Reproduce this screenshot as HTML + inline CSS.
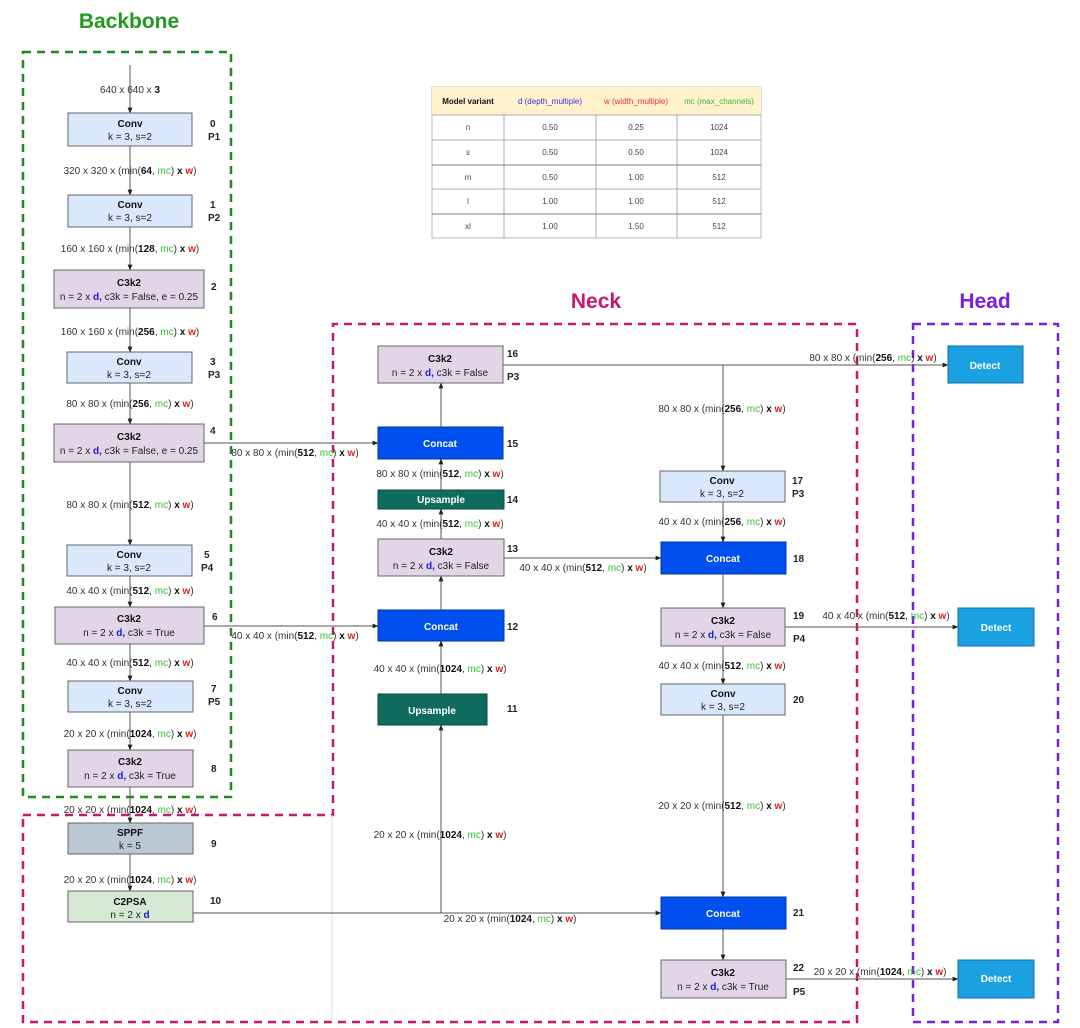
<!DOCTYPE html>
<html><head><meta charset="utf-8"><style>
html,body{margin:0;padding:0;background:#fff;}
svg{display:block;font-family:"Liberation Sans",Arial,sans-serif;}
.t{font-size:10px;fill:#222;text-anchor:middle;}
.lb{font-size:10px;fill:#333;text-anchor:middle;}
.lbbg{fill:#fff;opacity:0.9}
.b{font-weight:bold;fill:#111}
.g{fill:#2ec52e}
.r{fill:#e02020;font-weight:bold}
.d{fill:#1a1adc;font-weight:bold}
.h{font-weight:bold;font-size:10px;fill:#111;text-anchor:middle;}
.wh{font-weight:bold;font-size:10px;fill:#fff;text-anchor:middle;}
.num{font-weight:bold;font-size:10px;fill:#222;}
.ln{stroke:#555;stroke-width:1;fill:none;}
.tb{font-size:8px;fill:#444;text-anchor:middle;}
</style></head><body>
<svg width="1080" height="1028" viewBox="0 0 1080 1028" xmlns="http://www.w3.org/2000/svg">
<defs><marker id="a" viewBox="0 0 10 10" refX="9" refY="5" markerWidth="6" markerHeight="6" orient="auto"><path d="M0,1 L10,5 L0,9 z" fill="#222"/></marker></defs>

<!-- titles -->
<text x="129" y="28" font-size="21" font-weight="bold" fill="#1f9a1f" text-anchor="middle">Backbone</text>
<text x="596" y="308" font-size="21" font-weight="bold" fill="#c8186e" text-anchor="middle">Neck</text>
<text x="985" y="308" font-size="21" font-weight="bold" fill="#7a1fe0" text-anchor="middle">Head</text>

<!-- group boxes -->
<rect x="23" y="52" width="208" height="745" fill="none" stroke="#1f8a1f" stroke-width="2.5" stroke-dasharray="8,6"/>
<path d="M23,815 L333,815 L333,324 L857,324 L857,1022 L23,1022 Z" fill="none" stroke="#c8186e" stroke-width="2.5" stroke-dasharray="8,6"/>
<line x1="332" y1="815" x2="332" y2="1022" stroke="#ddd" stroke-width="1"/>
<rect x="913" y="324" width="145" height="698" fill="none" stroke="#7a1fe0" stroke-width="2.5" stroke-dasharray="8,6"/>

<!-- table -->
<g>
<rect x="432" y="87" width="329" height="151" fill="#fff" stroke="#bbb"/>
<rect x="432" y="87" width="329" height="28" fill="#fff2cc"/>
<g stroke="#999" stroke-width="0.8">
<line x1="432" y1="115" x2="761" y2="115"/><line x1="432" y1="140" x2="761" y2="140"/>
<line x1="432" y1="165" x2="761" y2="165" stroke="#555"/><line x1="432" y1="189" x2="761" y2="189"/>
<line x1="432" y1="214" x2="761" y2="214" stroke="#555"/>
<line x1="504" y1="115" x2="504" y2="238"/><line x1="596" y1="115" x2="596" y2="238"/><line x1="677" y1="115" x2="677" y2="238"/>
</g>
<text x="468" y="104" font-size="8" font-weight="bold" fill="#111" text-anchor="middle">Model variant</text>
<text x="550" y="104" font-size="8" fill="#3333dd" text-anchor="middle">d (depth_multiple)</text>
<text x="636" y="104" font-size="8" fill="#e03030" text-anchor="middle">w (width_multiple)</text>
<text x="719" y="104" font-size="8" fill="#33bb33" text-anchor="middle">mc (max_channels)</text>
<text class="tb" x="468" y="130">n</text><text class="tb" x="550" y="130">0.50</text><text class="tb" x="636" y="130">0.25</text><text class="tb" x="719" y="130">1024</text>
<text class="tb" x="468" y="155">s</text><text class="tb" x="550" y="155">0.50</text><text class="tb" x="636" y="155">0.50</text><text class="tb" x="719" y="155">1024</text>
<text class="tb" x="468" y="180">m</text><text class="tb" x="550" y="180">0.50</text><text class="tb" x="636" y="180">1.00</text><text class="tb" x="719" y="180">512</text>
<text class="tb" x="468" y="204">l</text><text class="tb" x="550" y="204">1.00</text><text class="tb" x="636" y="204">1.00</text><text class="tb" x="719" y="204">512</text>
<text class="tb" x="468" y="229">xl</text><text class="tb" x="550" y="229">1.00</text><text class="tb" x="636" y="229">1.50</text><text class="tb" x="719" y="229">512</text>
</g>

<!-- connectors -->
<g class="ln" marker-end="url(#a)">
<line x1="130" y1="65" x2="130" y2="113"/>
<line x1="130" y1="146" x2="130" y2="195"/>
<line x1="130" y1="227" x2="130" y2="270"/>
<line x1="130" y1="308" x2="130" y2="352"/>
<line x1="130" y1="383" x2="130" y2="424"/>
<line x1="130" y1="462" x2="130" y2="545"/>
<line x1="130" y1="576" x2="130" y2="607"/>
<line x1="130" y1="644" x2="130" y2="681"/>
<line x1="130" y1="712" x2="130" y2="750"/>
<line x1="130" y1="787" x2="130" y2="823"/>
<line x1="130" y1="854" x2="130" y2="891"/>
<line x1="204" y1="443" x2="378" y2="443"/>
<line x1="204" y1="626" x2="378" y2="626"/>
<polyline points="193,913 661,913"/>
<polyline points="441,913 441,725"/>
<line x1="441" y1="694" x2="441" y2="641"/>
<line x1="441" y1="610" x2="441" y2="576"/>
<line x1="441" y1="539" x2="441" y2="509"/>
<line x1="441" y1="490" x2="441" y2="459"/>
<line x1="441" y1="427" x2="441" y2="383"/>
<line x1="503" y1="365" x2="948" y2="365"/>
<line x1="723" y1="365" x2="723" y2="471"/>
<line x1="723" y1="502" x2="723" y2="542"/>
<line x1="504" y1="558" x2="661" y2="558"/>
<line x1="723" y1="574" x2="723" y2="608"/>
<line x1="785" y1="627" x2="958" y2="627"/>
<line x1="723" y1="646" x2="723" y2="684"/>
<line x1="723" y1="715" x2="723" y2="897"/>
<line x1="723" y1="929" x2="723" y2="960"/>
<line x1="786" y1="979" x2="958" y2="979"/>
</g>

<!-- nodes -->
<g stroke="#666" stroke-width="1">
<rect x="68" y="113" width="124" height="33" fill="#dae8fc"/>
<rect x="68" y="195" width="124" height="32" fill="#dae8fc"/>
<rect x="54" y="270" width="150" height="38" fill="#e1d5e7"/>
<rect x="67" y="352" width="125" height="31" fill="#dae8fc"/>
<rect x="54" y="424" width="150" height="38" fill="#e1d5e7"/>
<rect x="67" y="545" width="125" height="31" fill="#dae8fc"/>
<rect x="55" y="607" width="149" height="37" fill="#e1d5e7"/>
<rect x="68" y="681" width="125" height="31" fill="#dae8fc"/>
<rect x="68" y="750" width="125" height="37" fill="#e1d5e7"/>
<rect x="68" y="823" width="125" height="31" fill="#bac8d3"/>
<rect x="68" y="891" width="125" height="31" fill="#d5e8d4"/>
<rect x="378" y="346" width="125" height="37" fill="#e1d5e7"/>
<rect x="378" y="427" width="125" height="32" fill="#0050ef" stroke="#0035a0"/>
<rect x="378" y="490" width="126" height="19" fill="#0e6b5e" stroke="#0a4a40"/>
<rect x="378" y="539" width="126" height="37" fill="#e1d5e7"/>
<rect x="378" y="610" width="126" height="31" fill="#0050ef" stroke="#0035a0"/>
<rect x="378" y="694" width="109" height="31" fill="#0e6b5e" stroke="#0a4a40"/>
<rect x="660" y="471" width="125" height="31" fill="#dae8fc"/>
<rect x="661" y="542" width="125" height="32" fill="#0050ef" stroke="#0035a0"/>
<rect x="661" y="608" width="124" height="38" fill="#e1d5e7"/>
<rect x="661" y="684" width="124" height="31" fill="#dae8fc"/>
<rect x="661" y="897" width="125" height="32" fill="#0050ef" stroke="#0035a0"/>
<rect x="661" y="960" width="125" height="38" fill="#e1d5e7"/>
<rect x="948" y="346" width="75" height="37" fill="#1ba1e2" stroke="#1070a0"/>
<rect x="958" y="608" width="76" height="38" fill="#1ba1e2" stroke="#1070a0"/>
<rect x="958" y="960" width="76" height="38" fill="#1ba1e2" stroke="#1070a0"/>
</g>

<!-- node text -->
<text class="h" x="130" y="127">Conv</text><text class="t" x="130" y="140">k = 3, s=2</text>
<text class="h" x="130" y="208">Conv</text><text class="t" x="130" y="221">k = 3, s=2</text>
<text class="h" x="129" y="286">C3k2</text><text class="t" x="129" y="300">n = 2 x <tspan class="d">d,</tspan> c3k = False, e = 0.25</text>
<text class="h" x="129" y="365">Conv</text><text class="t" x="129" y="378">k = 3, s=2</text>
<text class="h" x="129" y="440">C3k2</text><text class="t" x="129" y="454">n = 2 x <tspan class="d">d,</tspan> c3k = False, e = 0.25</text>
<text class="h" x="129" y="558">Conv</text><text class="t" x="129" y="571">k = 3, s=2</text>
<text class="h" x="129" y="622">C3k2</text><text class="t" x="129" y="636">n = 2 x <tspan class="d">d,</tspan> c3k = True</text>
<text class="h" x="130" y="694">Conv</text><text class="t" x="130" y="707">k = 3, s=2</text>
<text class="h" x="130" y="765">C3k2</text><text class="t" x="130" y="779">n = 2 x <tspan class="d">d,</tspan> c3k = True</text>
<text class="h" x="130" y="836">SPPF</text><text class="t" x="130" y="849">k = 5</text>
<text class="h" x="130" y="905" font-size="11">C2PSA</text><text class="t" x="130" y="918" font-size="11">n = 2 x <tspan class="d">d</tspan></text>
<text class="h" x="440" y="362">C3k2</text><text class="t" x="440" y="376">n = 2 x <tspan class="d">d,</tspan> c3k = False</text>
<text class="wh" x="440" y="447">Concat</text>
<text class="wh" x="441" y="503">Upsample</text>
<text class="h" x="441" y="555">C3k2</text><text class="t" x="441" y="569">n = 2 x <tspan class="d">d,</tspan> c3k = False</text>
<text class="wh" x="441" y="630">Concat</text>
<text class="wh" x="432" y="714">Upsample</text>
<text class="h" x="722" y="484">Conv</text><text class="t" x="722" y="497">k = 3, s=2</text>
<text class="wh" x="723" y="562">Concat</text>
<text class="h" x="723" y="624">C3k2</text><text class="t" x="723" y="638">n = 2 x <tspan class="d">d,</tspan> c3k = False</text>
<text class="h" x="723" y="697">Conv</text><text class="t" x="723" y="710">k = 3, s=2</text>
<text class="wh" x="723" y="917">Concat</text>
<text class="h" x="723" y="976">C3k2</text><text class="t" x="723" y="990">n = 2 x <tspan class="d">d,</tspan> c3k = True</text>
<text class="wh" x="985" y="369">Detect</text>
<text class="wh" x="996" y="631">Detect</text>
<text class="wh" x="996" y="982">Detect</text>

<!-- numbers -->
<g class="num">
<text x="210" y="127">0</text><text x="208" y="140">P1</text>
<text x="210" y="208">1</text><text x="208" y="221">P2</text>
<text x="211" y="290">2</text>
<text x="210" y="365">3</text><text x="208" y="378">P3</text>
<text x="210" y="434">4</text>
<text x="204" y="558">5</text><text x="201" y="571">P4</text>
<text x="212" y="620">6</text>
<text x="211" y="692">7</text><text x="208" y="705">P5</text>
<text x="211" y="772">8</text>
<text x="211" y="847">9</text>
<text x="210" y="904">10</text>
<text x="507" y="357">16</text><text x="507" y="380">P3</text>
<text x="507" y="447">15</text>
<text x="507" y="503">14</text>
<text x="507" y="552">13</text>
<text x="507" y="630">12</text>
<text x="507" y="712">11</text>
<text x="792" y="484">17</text><text x="792" y="497">P3</text>
<text x="793" y="562">18</text>
<text x="793" y="619">19</text><text x="793" y="642">P4</text>
<text x="793" y="703">20</text>
<text x="793" y="916">21</text>
<text x="793" y="971">22</text><text x="793" y="995">P5</text>
</g>

<!-- edge labels -->
<g class="lb">
<text x="130" y="93">640 x 640 x <tspan class="b">3</tspan></text>
<text x="130" y="174">320 x 320 x (min(<tspan class="b">64</tspan>, <tspan class="g">mc</tspan>) <tspan class="b">x</tspan> <tspan class="r">w</tspan>)</text>
<text x="130" y="252">160 x 160 x (min(<tspan class="b">128</tspan>, <tspan class="g">mc</tspan>) <tspan class="b">x</tspan> <tspan class="r">w</tspan>)</text>
<text x="130" y="335">160 x 160 x (min(<tspan class="b">256</tspan>, <tspan class="g">mc</tspan>) <tspan class="b">x</tspan> <tspan class="r">w</tspan>)</text>
<text x="130" y="407">80 x 80 x (min(<tspan class="b">256</tspan>, <tspan class="g">mc</tspan>) <tspan class="b">x</tspan> <tspan class="r">w</tspan>)</text>
<text x="130" y="508">80 x 80 x (min(<tspan class="b">512</tspan>, <tspan class="g">mc</tspan>) <tspan class="b">x</tspan> <tspan class="r">w</tspan>)</text>
<text x="130" y="594">40 x 40 x (min(<tspan class="b">512</tspan>, <tspan class="g">mc</tspan>) <tspan class="b">x</tspan> <tspan class="r">w</tspan>)</text>
<text x="130" y="666">40 x 40 x (min(<tspan class="b">512</tspan>, <tspan class="g">mc</tspan>) <tspan class="b">x</tspan> <tspan class="r">w</tspan>)</text>
<text x="130" y="737">20 x 20 x (min(<tspan class="b">1024</tspan>, <tspan class="g">mc</tspan>) <tspan class="b">x</tspan> <tspan class="r">w</tspan>)</text>
<text x="130" y="813">20 x 20 x (min(<tspan class="b">1024</tspan>, <tspan class="g">mc</tspan>) <tspan class="b">x</tspan> <tspan class="r">w</tspan>)</text>
<text x="130" y="883">20 x 20 x (min(<tspan class="b">1024</tspan>, <tspan class="g">mc</tspan>) <tspan class="b">x</tspan> <tspan class="r">w</tspan>)</text>
<text x="295" y="456">80 x 80 x (min(<tspan class="b">512</tspan>, <tspan class="g">mc</tspan>) <tspan class="b">x</tspan> <tspan class="r">w</tspan>)</text>
<text x="295" y="639">40 x 40 x (min(<tspan class="b">512</tspan>, <tspan class="g">mc</tspan>) <tspan class="b">x</tspan> <tspan class="r">w</tspan>)</text>
<text x="440" y="477">80 x 80 x (min(<tspan class="b">512</tspan>, <tspan class="g">mc</tspan>) <tspan class="b">x</tspan> <tspan class="r">w</tspan>)</text>
<text x="440" y="527">40 x 40 x (min(<tspan class="b">512</tspan>, <tspan class="g">mc</tspan>) <tspan class="b">x</tspan> <tspan class="r">w</tspan>)</text>
<text x="440" y="672">40 x 40 x (min(<tspan class="b">1024</tspan>, <tspan class="g">mc</tspan>) <tspan class="b">x</tspan> <tspan class="r">w</tspan>)</text>
<text x="440" y="838">20 x 20 x (min(<tspan class="b">1024</tspan>, <tspan class="g">mc</tspan>) <tspan class="b">x</tspan> <tspan class="r">w</tspan>)</text>
<text x="510" y="922">20 x 20 x (min(<tspan class="b">1024</tspan>, <tspan class="g">mc</tspan>) <tspan class="b">x</tspan> <tspan class="r">w</tspan>)</text>
<text x="583" y="571">40 x 40 x (min(<tspan class="b">512</tspan>, <tspan class="g">mc</tspan>) <tspan class="b">x</tspan> <tspan class="r">w</tspan>)</text>
<text x="722" y="412">80 x 80 x (min(<tspan class="b">256</tspan>, <tspan class="g">mc</tspan>) <tspan class="b">x</tspan> <tspan class="r">w</tspan>)</text>
<text x="722" y="525">40 x 40 x (min(<tspan class="b">256</tspan>, <tspan class="g">mc</tspan>) <tspan class="b">x</tspan> <tspan class="r">w</tspan>)</text>
<text x="722" y="669">40 x 40 x (min(<tspan class="b">512</tspan>, <tspan class="g">mc</tspan>) <tspan class="b">x</tspan> <tspan class="r">w</tspan>)</text>
<text x="722" y="809">20 x 20 x (min(<tspan class="b">512</tspan>, <tspan class="g">mc</tspan>) <tspan class="b">x</tspan> <tspan class="r">w</tspan>)</text>
<text x="873" y="361">80 x 80 x (min(<tspan class="b">256</tspan>, <tspan class="g">mc</tspan>) <tspan class="b">x</tspan> <tspan class="r">w</tspan>)</text>
<text x="886" y="619">40 x 40 x (min(<tspan class="b">512</tspan>, <tspan class="g">mc</tspan>) <tspan class="b">x</tspan> <tspan class="r">w</tspan>)</text>
<text x="880" y="975">20 x 20 x (min(<tspan class="b">1024</tspan>, <tspan class="g">mc</tspan>) <tspan class="b">x</tspan> <tspan class="r">w</tspan>)</text>
</g>
</svg>
</body></html>
